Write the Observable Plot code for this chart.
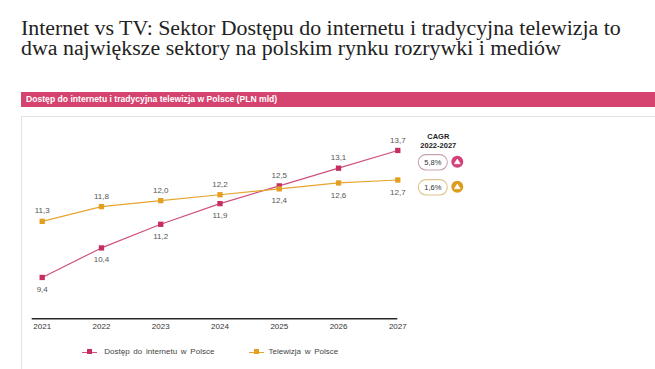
<!DOCTYPE html>
<html>
<head>
<meta charset="utf-8">
<script src="https://cdn.jsdelivr.net/npm/d3@7"></script>
<script src="https://cdn.jsdelivr.net/npm/@observablehq/plot@0.6"></script>
<style>
  html, body { margin: 0; padding: 0; background: #fff; }
  body { width: 655px; height: 369px; position: relative; overflow: hidden; font-family: "Liberation Sans", Arial, sans-serif; }
  #title { position: absolute; left: 21px; top: 18px; font-family: "Liberation Serif", "DejaVu Serif", serif; font-size: 21.9px; color: #222; white-space: nowrap; }
  #title div { height: 20px; line-height: 20px; }
  #band { position: absolute; left: 21px; right: 0; top: 92px; height: 15px; background: #d5446f; color: #fff; font-size: 8.6px; font-weight: bold; line-height: 15px; padding-left: 5px; white-space: nowrap; }
  #panel { position: absolute; left: 21px; right: 0; top: 116px; bottom: -2px; border-top: 1px solid #e2e2e2; border-left: 1px solid #e2e2e2; }
  #chart { position: absolute; left: 0; top: 116px; }
  #legend { position: absolute; left: 0; top: 346px; width: 655px; height: 12px; font-size: 8px; color: #444; }
  .item { position: absolute; top: 0; height: 12px; line-height: 12px; white-space: nowrap; word-spacing: 1.5px; }
  .sw { position: absolute; top: 5.5px; width: 15px; height: 1.2px; }
  .sq { position: absolute; top: -2.2px; left: 5px; width: 5px; height: 5px; }
</style>
</head>
<body>
<div id="title"></div>
<div id="band"></div>
<div id="panel"></div>
<div id="chart"></div>
<div id="legend"></div>
<script>
// ---- data ----
const titleLines = [
  "Internet vs TV: Sektor Dostępu do internetu i tradycyjna telewizja to",
  "dwa największe sektory na polskim rynku rozrywki i mediów"
];
const bandTitle = "Dostęp do internetu i tradycyjna telewizja w Polsce (PLN mld)";
const years = [2021, 2022, 2023, 2024, 2025, 2026, 2027];
const internet = [9.4, 10.4, 11.2, 11.9, 12.5, 13.1, 13.7];
const tv = [11.3, 11.8, 12.0, 12.2, 12.4, 12.6, 12.7];
const seriesNames = ["Dostęp do internetu w Polsce", "Telewizja w Polsce"];
const cagrTitle = ["CAGR", "2022-2027"];
const cagrValues = ["5,8%", "1,6%"];
const lineColors = ["#d0507c", "#e6a531"];
const markColors = ["#c62e63", "#e3a020"];
const circleColors = ["#d3417a", "#dc9c1c"];
const pillStrokes = ["#c8a2b2", "#dfc48c"];

// ---- html text ----
const titleEl = document.getElementById("title");
titleLines.forEach(l => { const d = document.createElement("div"); d.textContent = l; titleEl.appendChild(d); });
document.getElementById("band").textContent = bandTitle;

const rows = [];
years.forEach((y, i) => {
  rows.push({year: y, value: internet[i], s: 0, other: tv[i]});
  rows.push({year: y, value: tv[i], s: 1, other: internet[i]});
});
const fmt = v => v.toFixed(1).replace(".", ",");

function cagrMark(...args) {
  const scales = args.find(a => a && typeof a.x === "function" && typeof a.y === "function");
  const x0 = scales.x(2027);
  const g = d3.create("svg:g").attr("font-family", "Liberation Sans, Arial, sans-serif");
  g.selectAll("text.h").data(cagrTitle).join("text")
    .attr("x", x0 + 41).attr("y", (d, i) => 20.5 + i * 8.5)
    .attr("text-anchor", "middle").attr("dominant-baseline", "central")
    .attr("font-size", 7.5).attr("font-weight", "bold").attr("fill", "#222").text(d => d);
  cagrValues.forEach((v, i) => {
    const cy = 46.3 + i * 25;
    g.append("rect").attr("x", x0 + 21).attr("y", cy - 7.7).attr("width", 29).attr("height", 15.4)
      .attr("rx", 7.7).attr("fill", "#fff").attr("stroke", pillStrokes[i]).attr("stroke-width", 1.1);
    g.append("text").attr("x", x0 + 35.5).attr("y", cy).attr("text-anchor", "middle")
      .attr("dominant-baseline", "central").attr("font-size", 7.5).attr("fill", "#333").text(v);
    const ccx = x0 + 60, ccy = cy - 0.5;
    g.append("circle").attr("cx", ccx).attr("cy", ccy).attr("r", 6).attr("fill", circleColors[i]);
    g.append("path").attr("d", `M${ccx},${ccy - 2.8}L${ccx + 3},${ccy + 2}L${ccx - 3},${ccy + 2}Z`)
      .attr("fill", "#fff").attr("stroke", "#fff").attr("stroke-width", 0.6).attr("stroke-linejoin", "round");
  });
  return g.node();
}

const chart = Plot.plot({
  width: 655,
  height: 253,
  marginTop: 25.1,
  marginBottom: 50.7,
  marginLeft: 41.7,
  marginRight: 257.7,
  style: {fontFamily: "Liberation Sans, Arial, sans-serif", background: "transparent", overflow: "visible"},
  x: {domain: [2021, 2027], axis: null, label: null},
  y: {domain: [8, 14], axis: null, label: null},
  marks: [
    Plot.ruleY([8], {stroke: "#2a2a2a", strokeWidth: 1.5, insetLeft: -10}),
    Plot.axisX({ticks: years, tickFormat: d => String(d), tickSize: 0, tickPadding: 4.5, fontSize: 8, fill: "#333", anchor: "bottom", label: null}),
    Plot.line(rows, {x: "year", y: "value", z: "s", stroke: d => lineColors[d.s], strokeWidth: 1.2}),
    Plot.dot(rows, {x: "year", y: "value", symbol: "square", r: 3, fill: d => markColors[d.s]}),
    Plot.text(rows.filter(d => d.value > d.other), {x: "year", y: "value", text: d => fmt(d.value), dy: -10.5, fontSize: 8, fill: "#555"}),
    Plot.text(rows.filter(d => d.value <= d.other), {x: "year", y: "value", text: d => fmt(d.value), dy: 12, fontSize: 8, fill: "#555"}),
    cagrMark
  ]
});
chart.querySelectorAll("[fill='currentColor']").forEach(n => n.setAttribute("fill", "#333"));
document.getElementById("chart").appendChild(chart);

// ---- legend ----
const legendPos = [[81.7, 104.3], [248.5, 268.5]];
const legend = document.getElementById("legend");
seriesNames.forEach((name, i) => {
  const sw = document.createElement("div");
  sw.className = "sw";
  sw.style.left = legendPos[i][0] + "px";
  sw.style.background = lineColors[i];
  const sq = document.createElement("div");
  sq.className = "sq";
  sq.style.background = markColors[i];
  sw.appendChild(sq);
  legend.appendChild(sw);
  const t = document.createElement("div");
  t.className = "item";
  t.style.left = legendPos[i][1] + "px";
  t.textContent = name;
  legend.appendChild(t);
});
</script>
</body>
</html>
